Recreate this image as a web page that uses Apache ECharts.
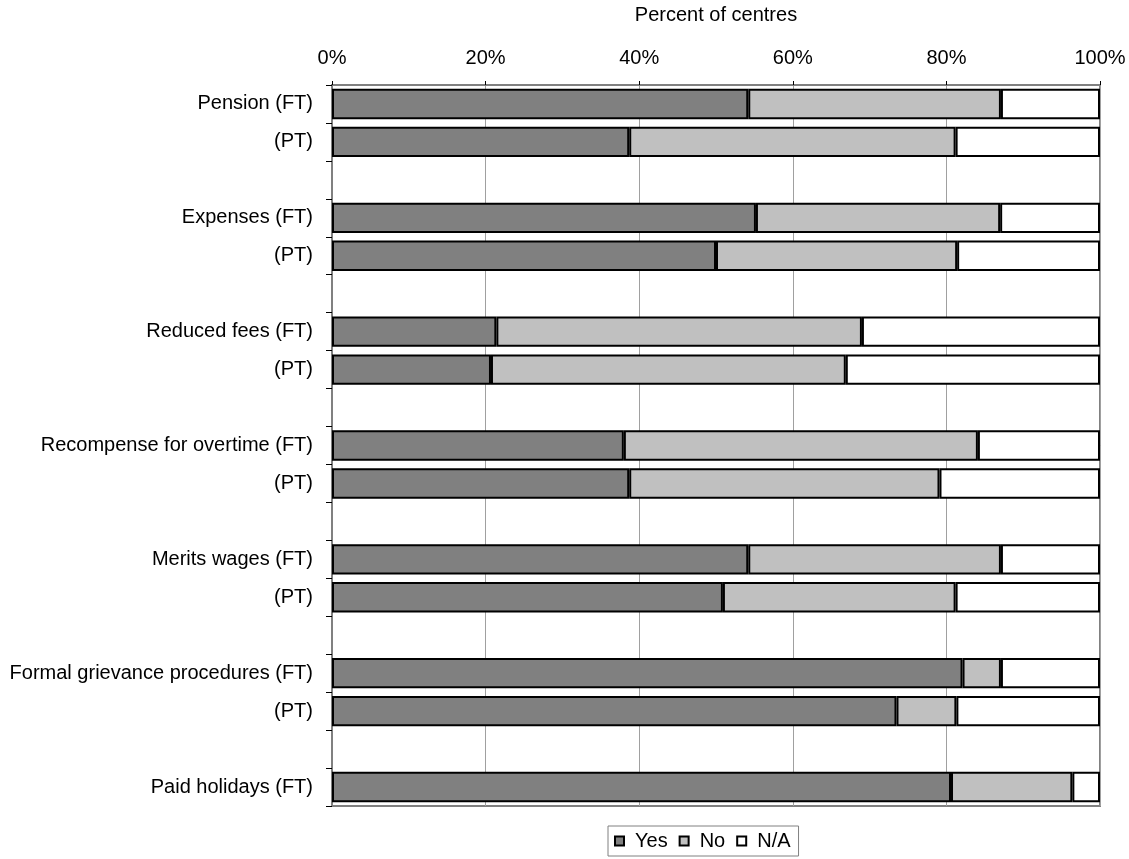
<!DOCTYPE html>
<html>
<head>
<meta charset="utf-8">
<style>
  html, body { margin: 0; padding: 0; background: #ffffff; }
  #chart { width: 1129px; height: 859px; }
</style>
<script src="https://cdn.jsdelivr.net/npm/echarts@6/dist/echarts.min.js"></script>
</head>
<body>
<div id="chart"></div>
<script>
// Row labels, top to bottom; empty strings are spacer rows between groups
var categories = [
  'Pension (FT)', '(PT)', '',
  'Expenses (FT)', '(PT)', '',
  'Reduced fees (FT)', '(PT)', '',
  'Recompense for overtime (FT)', '(PT)', '',
  'Merits wages (FT)', '(PT)', '',
  'Formal grievance procedures (FT)', '(PT)', '',
  'Paid holidays (FT)'
];

// Percent of centres per answer (null on spacer rows)
var yesValues = [54.2, 38.7, null, 55.2, 50.0, null, 21.4, 20.7, null, 38.0, 38.7, null, 54.2, 50.9, null, 82.1, 73.5, null, 80.6];
var noValues  = [32.9, 42.5, null, 31.8, 31.4, null, 47.6, 46.2, null, 46.1, 40.4, null, 32.9, 30.3, null,  5.0,  7.8, null, 15.8];
var naValues  = [12.9, 18.8, null, 13.0, 18.6, null, 31.0, 33.1, null, 15.9, 20.9, null, 12.9, 18.8, null, 12.9, 18.7, null,  3.6];

var seriesNames = ['Yes', 'No', 'N/A'];
var axisTitle = 'Percent of centres';

var FONT = '"Liberation Sans", Arial, sans-serif';

function barSeries(name, values, fill) {
  return {
    name: name,
    type: 'bar',
    stack: 'total',
    data: values,
    barWidth: '80%',
    itemStyle: { color: fill, borderColor: '#000000', borderWidth: 2 },
    emphasis: { disabled: true }
  };
}

var chart = echarts.init(document.getElementById('chart'), null, { renderer: 'canvas' });

chart.setOption({
  animation: false,
  backgroundColor: '#ffffff',
  textStyle: { fontFamily: FONT, color: '#000000' },
  grid: {
    left: 332, right: 29, top: 85, bottom: 53,
    show: true,
    borderColor: '#808080',
    borderWidth: 2,
    backgroundColor: 'transparent'
  },
  legend: {
    data: seriesNames,
    left: 608,
    top: 826,
    orient: 'horizontal',
    itemWidth: 9,
    itemHeight: 9,
    itemGap: 11,
    icon: 'rect',
    padding: [5, 8, 5, 6],
    borderColor: '#808080',
    borderWidth: 1,
    textStyle: { fontFamily: FONT, fontSize: 20, color: '#000000', padding: [0, 0, 0, 6] }
  },
  xAxis: {
    type: 'value',
    position: 'top',
    min: 0,
    max: 100,
    interval: 20,
    name: axisTitle,
    nameLocation: 'middle',
    nameGap: 60,
    nameTextStyle: { fontFamily: FONT, fontSize: 20, color: '#000000' },
    axisLine: { show: true, lineStyle: { color: '#808080', width: 2 } },
    axisTick: { show: true, length: 4, lineStyle: { color: '#000000', width: 1 } },
    axisLabel: { formatter: '{value}%', fontFamily: FONT, fontSize: 20, color: '#000000', margin: 17 },
    splitLine: { show: true, lineStyle: { color: '#a0a0a0', width: 1 } }
  },
  yAxis: {
    type: 'category',
    inverse: true,
    data: categories,
    axisLine: { show: true, lineStyle: { color: '#808080', width: 2 } },
    axisTick: { show: true, length: 6, lineStyle: { color: '#000000', width: 1 } },
    axisLabel: { fontFamily: FONT, fontSize: 20, color: '#000000', margin: 19 },
    splitLine: { show: false }
  },
  series: [
    barSeries(seriesNames[0], yesValues, '#808080'),
    barSeries(seriesNames[1], noValues, '#c0c0c0'),
    barSeries(seriesNames[2], naValues, '#ffffff')
  ]
});
</script>
</body>
</html>
